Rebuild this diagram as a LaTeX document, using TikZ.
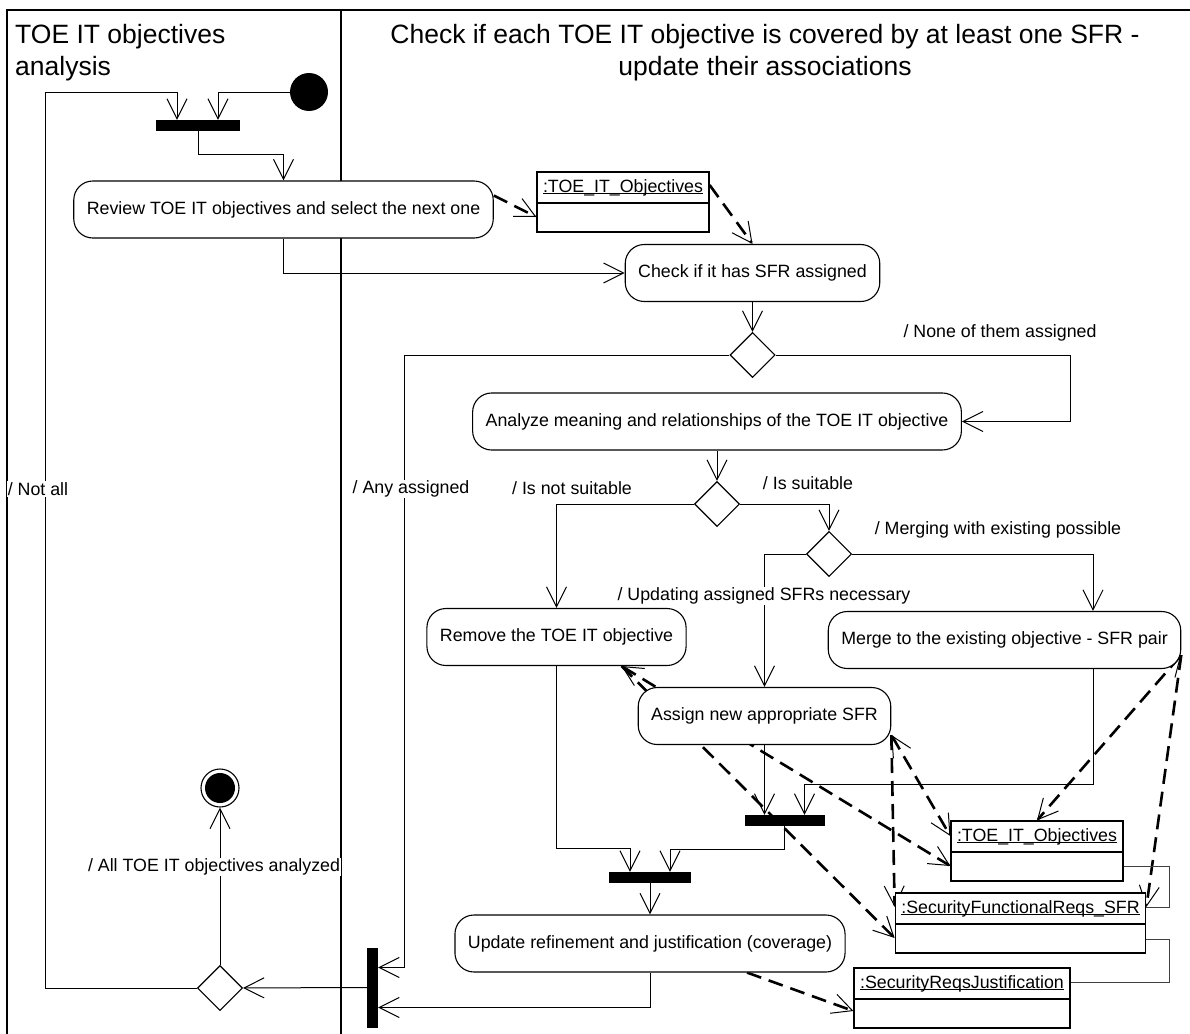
\documentclass[tikz,border=0pt]{standalone}
\usepackage{fontspec}
\setmainfont{Liberation Sans}
\usetikzlibrary{arrows.meta, shapes.geometric, backgrounds}

\newcommand{\lanefont}{\fontsize{26.5}{32}\selectfont}
\newcommand{\actfont}{\fontsize{17.8}{21}\selectfont}
\newcommand{\objname}[1]{\underline{\smash{#1}}}

\tikzset{
  lane/.style={line width=1.6pt},
  action/.style={draw, fill=white, line width=1.1pt, rounded corners=19pt,
    minimum height=57pt, inner xsep=13pt, font=\actfont},
  objbox/.style={draw, fill=white, line width=1.3pt, inner xsep=6pt, inner ysep=7pt,
    text height=13pt, text depth=33pt, font=\actfont,
    path picture={\draw[line width=1.8pt]
      ([yshift=-31pt]path picture bounding box.north west) --
      ([yshift=-31pt]path picture bounding box.north east);}},
  bar/.style={fill=black, inner sep=0pt, minimum height=11pt},
  decision/.style={diamond, draw, fill=white, line width=1.1pt, inner sep=0pt,
    minimum width=45pt, minimum height=45pt},
  startdot/.style={circle, fill=black, inner sep=0pt, minimum size=38pt},
  enddot/.style={circle, draw, fill=white, line width=1.1pt, inner sep=0pt, minimum size=38pt,
    path picture={\fill[black] (path picture bounding box.center) circle (15pt);}},
  guard/.style={fill=white, inner sep=1pt, font=\actfont},
  flow/.style={line width=1pt, -{Straight Barb[length=20pt, width=20pt]}},
  objflow/.style={line width=2.6pt, dash pattern=on 15pt off 8pt,
    -{Straight Barb[length=20pt, width=20pt, line width=1pt]}},
  objflow2/.style={objflow,
    {Straight Barb[length=20pt, width=20pt, line width=1pt]}-{Straight Barb[length=20pt, width=20pt, line width=1pt]}},
  link/.style={line width=1pt, black!75},
}

\begin{document}
\begin{tikzpicture}[x=1pt, y=-1pt]
  \useasboundingbox (0,0) rectangle (1190,1033);

  % === Lane titles ===
  \node[anchor=north west, inner sep=0pt, align=left, font=\lanefont] (lane1) at (15,24)
    {TOE IT objectives\\analysis};
  \node[anchor=north, inner sep=0pt, align=center, font=\lanefont] (lane2) at (765,24)
    {Check if each TOE IT objective is covered by at least one SFR -\\update their associations};

  % === Left lane ===
  \node[startdot] (start) at (309,92) {};
  \node[bar, minimum width=84pt] (fork1) at (198,125.5) {};
  \node[action] (review) at (283.5,209.5) {Review TOE IT objectives and select the next one};
  \node[enddot] (final) at (220,788) {};
  \node[decision] (dec4) at (220,988) {};

  % === Right lane: actions ===
  \node[action] (check) at (752.5,273) {Check if it has SFR assigned};
  \node[decision] (dec1) at (752.5,355) {};
  \node[action] (analyze) at (717,421.5) {Analyze meaning and relationships of the TOE IT objective};
  \node[decision] (dec2) at (717,504) {};
  \node[decision] (dec3) at (829,554) {};
  \node[action] (remove) at (556.5,637) {Remove the TOE IT objective};
  \node[action] (merge) at (1004.5,640) {Merge to the existing objective - SFR pair};
  \node[action] (assign) at (764.5,716) {Assign new appropriate SFR};
  \node[bar, minimum width=80pt] (bar3) at (784.5,820.5) {};
  \node[bar, minimum width=82pt] (bar2) at (650,877.5) {};
  \node[action] (update) at (650,943.5) {Update refinement and justification (coverage)};
  \node[bar, minimum width=11pt, minimum height=80pt] (bar4) at (372.5,987.5) {};

  % === Right lane: objects ===
  \node[objbox] (obj1) at (623,202) {\objname{:TOE\_IT\_Objectives}};
  \node[objbox] (obj2) at (1037,851) {\objname{:TOE\_IT\_Objectives}};
  \node[objbox] (obj3) at (1020.5,923) {\objname{:SecurityFunctionalReqs\_SFR}};
  \node[objbox] (obj4) at (962,998) {\objname{:SecurityReqsJustification}};

  % === Guards ===
  \node[guard] (gnone) at (1000,333) {/ None of them assigned};
  \node[guard] (gany) at (411,489) {/ Any assigned};
  \node[guard] (gnotall) at (38,489) {/ Not all};
  \node[guard] (gnotsuit) at (572,488) {/ Is not suitable};
  \node[guard] (gsuit) at (808,483) {/ Is suitable};
  \node[guard] (gmerge) at (998,530) {/ Merging with existing possible};
  \node[guard] (gupd) at (764,596) {/ Updating assigned SFRs necessary};
  \node[guard] (gall) at (214,867) {/ All TOE IT objectives analyzed};

  \begin{scope}[on background layer]
    % lanes
    \draw[lane] (7,1050) -- (7,10) -- (1200,10);
    \draw[lane] (341,10) -- (341,1050);

    % control flow
    \draw[flow] (start) -| ([xshift=20pt]fork1.north);
    \draw[flow] (fork1.south) -- ++(0,23) -| (review);
    \draw[flow] (review) |- (check);
    \draw[flow] (check) -- (dec1);
    \draw[flow] (dec1) -- ++(318,0) |- (analyze);
    \draw[flow] (dec1) -| ([xshift=26pt, yshift=20pt]bar4.east) -- ([yshift=20pt]bar4.east);
    \draw[flow] (analyze) -- (dec2);
    \draw[flow] (dec2) -| (remove);
    \draw[flow] (dec2) -| (dec3);
    \draw[flow] (dec3) -| ([xshift=88.5pt]merge.north);
    \draw[flow] (dec3) -| (assign);
    \draw[flow] (remove) |- ([xshift=-20pt, yshift=23pt]bar2.north) -- ([xshift=-20pt]bar2.north);
    \draw[flow] (assign) -- ([xshift=-20pt]bar3.north);
    \draw[flow] ([xshift=88.5pt]merge.south) -- ++(0,115) -| ([xshift=20pt]bar3.north);
    \draw[flow] (bar3.south) -- ++(0,23) -| ([xshift=20pt]bar2.north);
    \draw[flow] (bar2) -- (update);
    \draw[flow] (update) |- ([yshift=-20pt]bar4.east);
    \draw[flow] (bar4) -- (dec4);
    \draw[flow] (dec4) -- (final);
    \draw[flow] (dec4) -| (45,92) -| ([xshift=-21pt]fork1.north);

    % object flow
    \draw[objflow] ([yshift=14pt]review.east) -- ([yshift=-15pt]obj1.west);
    \draw[objflow] ([yshift=17pt]obj1.east) -- (check.north);
    \draw[objflow2] ([xshift=65pt]remove.south) -- ([yshift=-15pt]obj2.west);
    \draw[objflow] ([xshift=65pt]remove.south) -- ([yshift=-15pt]obj3.west);
    \draw[objflow2] ([yshift=-19pt]assign.east) -- ([yshift=15pt]obj2.west);
    \draw[objflow] ([yshift=-19pt]assign.east) -- ([yshift=16pt]obj3.west);
    \draw[objflow2] ([yshift=-15pt]merge.east) -- (obj2.north);
    \draw[objflow] ([yshift=-15pt]merge.east) -- ([yshift=16pt]obj3.east);
    \draw[objflow] ([xshift=97pt]update.south) -- ([yshift=-13pt]obj4.west);

    % links between the objects
    \draw[link] ([yshift=-15pt]obj2.east) -| ([xshift=23pt, yshift=16pt]obj3.east) -- ([yshift=16pt]obj3.east);
    \draw[link] ([yshift=-16pt]obj3.east) -| ([xshift=99pt, yshift=16pt]obj4.east) -- ([yshift=16pt]obj4.east);
  \end{scope}
\end{tikzpicture}
\end{document}
